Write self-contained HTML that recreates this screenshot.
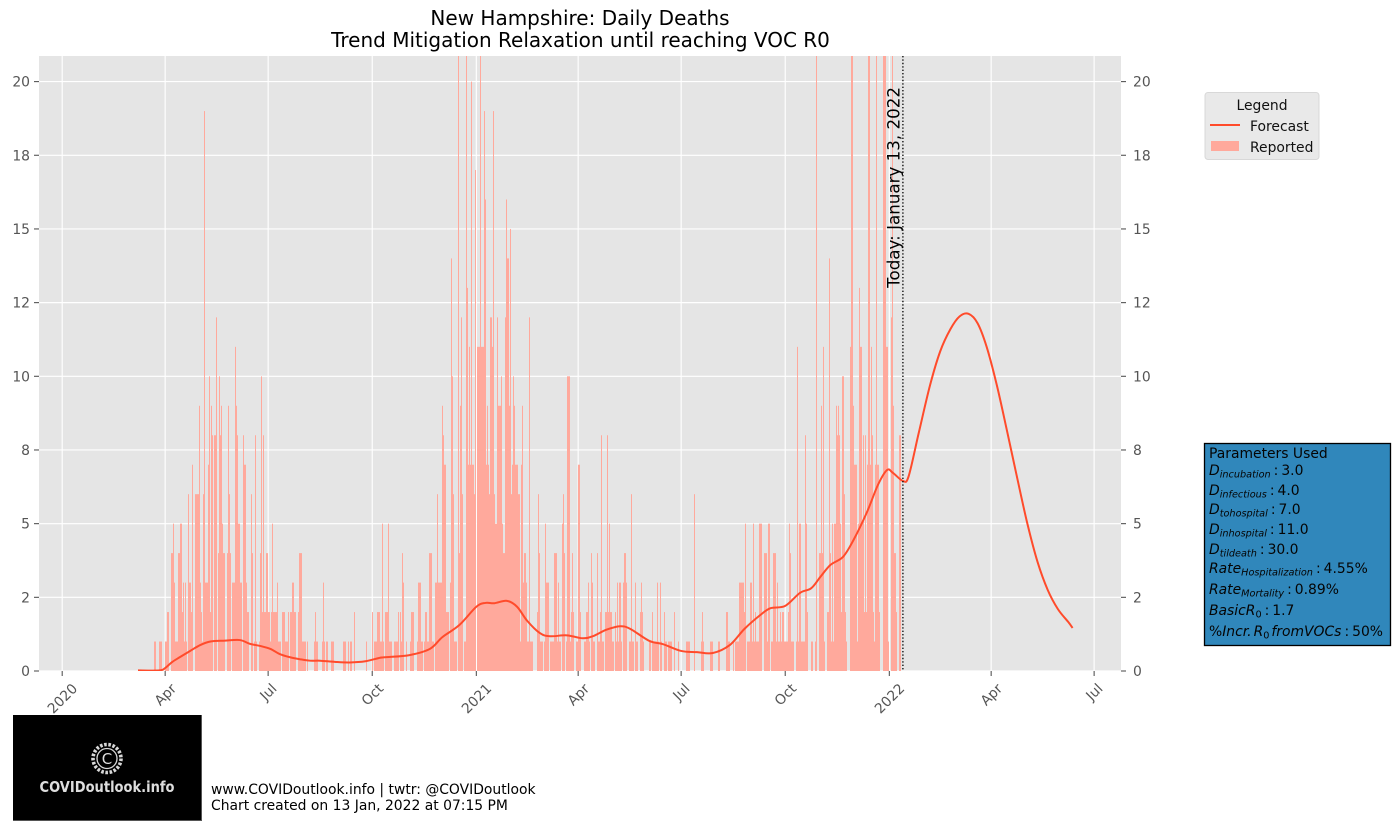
<!DOCTYPE html>
<html lang="en">
<head>
<meta charset="utf-8">
<title>New Hampshire: Daily Deaths</title>
<style>
html,body{margin:0;padding:0;background:#fff;width:1394px;height:830px;overflow:hidden}
svg{display:block;font-family:"DejaVu Sans","Liberation Sans",sans-serif}
</style>
</head>
<body>
<svg id="chart" xmlns="http://www.w3.org/2000/svg" width="1394" height="830" viewBox="0 0 1394 830">
  <defs><clipPath id="plot-clip"><rect x="39" y="56" width="1082" height="615"/></clipPath></defs>
  <rect x="39" y="56" width="1082" height="615" fill="#e5e5e5"/>
  <g id="grid"></g>
  <g id="bars" clip-path="url(#plot-clip)"></g>
  <path id="forecast" fill="none" stroke="#ff4b2b" stroke-width="2" clip-path="url(#plot-clip)"/>
  <line id="today-line" y1="56" y2="671" stroke="#000" stroke-width="1.3" stroke-dasharray="1.4 2"/>
  <text id="today-label" font-size="16.7" fill="#000" text-anchor="end">Today: January 13, 2022</text>
  <g id="ticks"></g>
  <g font-size="20" fill="#000" text-anchor="middle">
    <text x="580" y="25">New Hampshire: Daily Deaths</text>
    <text x="580.5" y="47">Trend Mitigation Relaxation until reaching VOC R0</text>
  </g>

  <g font-size="13.9" fill="#111">
    <rect x="1205" y="92.5" width="114" height="67" rx="3" fill="#e9e9e9" stroke="#d8d8d8"/>
    <text x="1262" y="110" text-anchor="middle">Legend</text>
    <line x1="1210" x2="1240" y1="125" y2="125" stroke="#ff4b2b" stroke-width="2"/>
    <text x="1250" y="131">Forecast</text>
    <rect x="1211" y="141" width="28" height="10" fill="#ffa99c"/>
    <text x="1250" y="152">Reported</text>
  </g>

  <g font-size="13.9" fill="#050505">
    <rect x="1204.5" y="443.5" width="186" height="202" fill="#3087bb" stroke="#000" stroke-width="1.3"/>
    <text x="1209" y="458">Parameters Used</text>
    <text x="1209" y="475"><tspan font-style="italic">D</tspan><tspan font-style="italic" font-size="9.7" dy="2.5">incubation</tspan><tspan dy="-2.5" dx="3">:</tspan><tspan dx="3">3.0</tspan></text>
    <text x="1209" y="495"><tspan font-style="italic">D</tspan><tspan font-style="italic" font-size="9.7" dy="2.5">infectious</tspan><tspan dy="-2.5" dx="3">:</tspan><tspan dx="3">4.0</tspan></text>
    <text x="1209" y="514"><tspan font-style="italic">D</tspan><tspan font-style="italic" font-size="9.7" dy="2.5">tohospital</tspan><tspan dy="-2.5" dx="3">:</tspan><tspan dx="3">7.0</tspan></text>
    <text x="1209" y="534"><tspan font-style="italic">D</tspan><tspan font-style="italic" font-size="9.7" dy="2.5">inhospital</tspan><tspan dy="-2.5" dx="3">:</tspan><tspan dx="3">11.0</tspan></text>
    <text x="1209" y="554"><tspan font-style="italic">D</tspan><tspan font-style="italic" font-size="9.7" dy="2.5">tildeath</tspan><tspan dy="-2.5" dx="3">:</tspan><tspan dx="3">30.0</tspan></text>
    <text x="1209" y="573"><tspan font-style="italic">Rate</tspan><tspan font-style="italic" font-size="9.7" dy="2.5">Hospitalization</tspan><tspan dy="-2.5" dx="3">:</tspan><tspan dx="3">4.55%</tspan></text>
    <text x="1209" y="594"><tspan font-style="italic">Rate</tspan><tspan font-style="italic" font-size="9.7" dy="2.5">Mortality</tspan><tspan dy="-2.5" dx="3">:</tspan><tspan dx="3">0.89%</tspan></text>
    <text x="1209" y="615"><tspan font-style="italic">BasicR</tspan><tspan font-size="9.7" dy="2.5">0</tspan><tspan dy="-2.5" dx="3">:</tspan><tspan dx="3">1.7</tspan></text>
    <text x="1209" y="636"><tspan>%</tspan><tspan font-style="italic">Incr.</tspan><tspan font-style="italic" dx="2">R</tspan><tspan font-size="9.7" dy="2.5">0</tspan><tspan dy="-2.5" dx="2" font-style="italic">fromVOCs</tspan><tspan dx="3">:</tspan><tspan dx="3">50%</tspan></text>
  </g>

  <g>
    <rect x="13" y="715" width="188.5" height="105.5" fill="#000"/>
    <line x1="201.5" x2="201.5" y1="715" y2="821" stroke="#555" stroke-width="1"/>
    <line x1="13" x2="202" y1="820.5" y2="820.5" stroke="#555" stroke-width="1"/>
    <circle cx="107" cy="758.5" r="14" fill="none" stroke="#d8d8d8" stroke-width="3.6" stroke-dasharray="2.6 1.6"/>
    <circle cx="107" cy="758.5" r="10" fill="none" stroke="#d8d8d8" stroke-width="1.3"/>
    <text x="107" y="764" fill="#ddd" font-size="15" text-anchor="middle">C</text>
    <text x="107" y="792" fill="#dedede" font-size="15" font-weight="bold" text-anchor="middle" textLength="135" lengthAdjust="spacingAndGlyphs">COVIDoutlook.info</text>
  </g>

  <g font-size="13.9" fill="#000">
    <text x="211" y="794">www.COVIDoutlook.info | twtr: @COVIDoutlook</text>
    <text x="211" y="810">Chart created on 13 Jan, 2022 at 07:15 PM</text>
  </g>
</svg>
<script>
// Days are counted from 2020-01-01.
const firstReportedDay = 82;
const todayDay = 743;
const reportedDeaths = [
1,0,0,0,1,1,1,0,0,1,
1,2,2,0,0,4,5,3,1,1,
1,4,4,5,2,3,1,3,1,0,
6,3,2,7,0,0,6,6,6,9,
3,2,1,6,19,3,3,7,10,2,
9,8,0,8,12,0,4,10,8,9,
5,4,0,0,4,9,6,4,0,3,
3,11,9,8,5,5,3,0,8,7,
7,3,2,2,0,6,4,0,1,8,
1,0,1,4,10,2,8,2,2,4,
2,2,1,2,5,2,2,2,3,1,
1,1,0,2,2,1,1,1,2,0,
2,2,3,2,2,0,0,2,4,4,
1,1,1,1,0,1,0,0,0,0,
0,1,2,1,1,0,0,0,1,3,
1,0,1,0,0,0,1,1,1,0,
0,0,0,0,0,0,0,1,1,0,
0,1,0,1,1,0,2,0,0,0,
0,0,0,0,0,0,0,1,0,0,
0,0,2,0,1,1,1,2,2,1,
1,5,1,0,2,2,5,1,1,1,
0,0,1,1,1,2,0,2,1,4,
3,0,1,0,0,0,1,2,2,0,
0,0,1,3,3,3,1,0,1,2,
2,1,1,4,4,1,1,0,3,3,
6,3,3,3,9,8,7,7,2,2,
0,3,14,10,6,1,1,0,22,4,
9,12,6,0,1,22,13,7,11,7,
20,7,6,17,0,11,11,11,22,11,
11,19,16,7,9,7,6,12,11,19,
6,5,5,12,9,9,10,5,4,4,
12,16,14,9,15,6,7,10,9,7,
7,6,6,1,7,9,3,4,3,1,
1,12,1,1,1,0,0,0,2,6,
4,1,1,0,1,5,3,3,3,0,
1,1,1,4,4,4,1,3,1,0,
5,6,4,0,1,10,10,1,2,4,
2,0,0,1,7,7,2,0,0,0,
1,2,2,3,1,0,4,3,1,0,
0,4,1,1,2,8,1,0,2,2,
8,2,5,2,1,1,0,2,1,3,
1,3,1,0,3,4,4,3,0,1,
1,6,1,1,0,3,1,0,0,2,
3,2,1,0,0,0,0,1,1,0,
2,1,1,1,3,1,0,3,1,0,
2,1,1,0,1,1,1,0,0,2,
0,0,0,1,0,0,0,0,0,0,
1,1,1,0,0,0,0,6,0,0,
0,0,0,1,2,1,0,0,0,0,
0,1,1,1,0,0,0,0,1,1,
0,0,0,0,0,2,2,1,1,0,
0,1,0,1,1,1,1,3,3,3,
3,2,5,0,1,1,3,3,1,5,
1,2,1,1,5,5,5,0,0,4,
4,1,5,5,0,1,1,4,4,1,
3,1,1,2,1,2,1,1,1,1,
2,5,4,1,1,0,0,1,11,1,
5,1,1,1,1,8,5,2,0,0,
1,1,0,0,1,22,0,4,4,9,
4,11,1,0,2,2,14,4,1,5,
1,5,9,8,9,8,5,2,10,6,
2,1,0,0,0,11,22,9,7,7,
7,1,5,13,11,5,8,2,8,2,
7,22,7,11,8,2,1,7,22,7,
2,0,0,0,22,22,22,11,1,0,
0,12,22,9,4,2,0,0,8,8,
0];
const forecastDays = [67,86,91,97,104,113,122,131,144,157,166,175,184,192,201,210,219,228,241,254,268,281,287,307,325,336,351,366,374,382,393,402,411,422,431,446,460,469,481,493,502,519,531,547,561,575,590,603,617,626,639,652,662,670,679,690,699,711,721,729,734,743,748,757,767,776,785,793,801,809,817,826,835,844,853,862,871,880,889,893];
const forecastValues = [0.02,0.02,0.1,0.3,0.47,0.68,0.88,1.0,1.03,1.05,0.92,0.85,0.75,0.58,0.47,0.4,0.35,0.35,0.31,0.29,0.33,0.45,0.47,0.54,0.75,1.15,1.56,2.18,2.31,2.30,2.38,2.18,1.70,1.29,1.18,1.21,1.11,1.18,1.40,1.52,1.43,1.02,0.91,0.68,0.64,0.61,0.88,1.43,1.90,2.13,2.21,2.65,2.81,3.19,3.6,3.87,4.42,5.37,6.32,6.82,6.73,6.45,6.6,8.08,9.7,10.85,11.6,12.03,12.12,11.8,11.0,9.7,8.15,6.55,5.0,3.7,2.75,2.1,1.67,1.46];
const xTickDays = [0,91,182,274,366,456,547,639,731,821,912];
const xTickLabels = ['2020','Apr','Jul','Oct','2021','Apr','Jul','Oct','2022','Apr','Jul'];
const yTickValues = [0,2.5,5,7.5,10,12.5,15,17.5,20];
const yTickLabels = ['0','2','5','8','10','12','15','18','20'];

const NS = 'http://www.w3.org/2000/svg';
const xScale = d => 62.2 + d * 1.1315;
const yScale = v => 671 - v * 29.47;
const make = (tag, parent) => parent.appendChild(document.createElementNS(NS, tag));
const gridG = document.getElementById('grid');
const ticksG = document.getElementById('ticks');
const barsG = document.getElementById('bars');

yTickValues.forEach((v, i) => {
  const y = yScale(v);
  const g = make('line', gridG);
  
  
  g.setAttribute('x1', 39); g.setAttribute('x2', 1121);
  g.setAttribute('y1', y); g.setAttribute('y2', y);
  g.setAttribute('stroke', '#fff'); g.setAttribute('stroke-width', 1.15);
  [[34, 39], [1121, 1126]].forEach(p => {
    const t = make('line', ticksG);
    
    
    t.setAttribute('x1', p[0]); t.setAttribute('x2', p[1]);
    t.setAttribute('y1', y); t.setAttribute('y2', y);
    t.setAttribute('stroke', '#555'); t.setAttribute('stroke-width', 1.1);
  });
  [[30, 'end'], [1133, 'start']].forEach(p => {
    const l = make('text', ticksG);
    
    
    l.setAttribute('x', p[0]); l.setAttribute('y', y + 5);
    l.setAttribute('text-anchor', p[1]);
    l.setAttribute('font-size', '13.9'); l.setAttribute('fill', '#555');
    l.textContent = yTickLabels[i];
  });
});

xTickDays.forEach((d, i) => {
  const x = xScale(d);
  const g = make('line', gridG);
  
  
  g.setAttribute('x1', x); g.setAttribute('x2', x);
  g.setAttribute('y1', 56); g.setAttribute('y2', 671);
  g.setAttribute('stroke', '#fff'); g.setAttribute('stroke-width', 1.15);
  const t = make('line', ticksG);
  
  
  t.setAttribute('x1', x); t.setAttribute('x2', x);
  t.setAttribute('y1', 671); t.setAttribute('y2', 676);
  t.setAttribute('stroke', '#555'); t.setAttribute('stroke-width', 1.1);
  const l = make('text', ticksG);
  
  
  l.setAttribute('font-size', '13.9'); l.setAttribute('fill', '#555');
  l.setAttribute('text-anchor', 'middle');
  l.textContent = xTickLabels[i];
  const w = l.getComputedTextLength();
  const cy = 682 + (w + 11) * 0.7071 / 2;
  l.setAttribute('x', x); l.setAttribute('y', cy + 5);
  l.setAttribute('transform', 'rotate(-45 ' + x + ' ' + cy + ')');
});

reportedDeaths.forEach((v, i) => {
  if (!v) return;
  const x = xScale(firstReportedDay + i);
  const left = Math.round(x - 0.566);
  const right = Math.max(left + 1, Math.round(x + 0.566));
  const b = make('rect', barsG);
  
  
  b.setAttribute('x', left);
  b.setAttribute('width', right - left);
  b.setAttribute('y', yScale(v));
  b.setAttribute('height', 671 - yScale(v));
  b.setAttribute('fill', '#ffa99c');
});

const pts = forecastDays.map((d, i) => [xScale(d), yScale(forecastValues[i])]);
let path = 'M' + pts[0][0] + ' ' + pts[0][1];
for (let i = 0; i < pts.length - 1; i++) {
  const p0 = pts[Math.max(0, i - 1)], p1 = pts[i], p2 = pts[i + 1], p3 = pts[Math.min(pts.length - 1, i + 2)];
  path += ' C' + (p1[0] + (p2[0] - p0[0]) / 6).toFixed(2) + ' ' + (p1[1] + (p2[1] - p0[1]) / 6).toFixed(2) +
    ' ' + (p2[0] - (p3[0] - p1[0]) / 6).toFixed(2) + ' ' + (p2[1] - (p3[1] - p1[1]) / 6).toFixed(2) +
    ' ' + p2[0].toFixed(2) + ' ' + p2[1].toFixed(2);
}
document.getElementById('forecast').setAttribute('d', path);

const todayX = xScale(todayDay);
const todayLine = document.getElementById('today-line');
todayLine.setAttribute('x1', todayX);
todayLine.setAttribute('x2', todayX);
const todayLabel = document.getElementById('today-label');
todayLabel.setAttribute('transform', 'translate(' + (todayX - 3.5) + ' 87) rotate(-90)');
</script>
</body>
</html>
